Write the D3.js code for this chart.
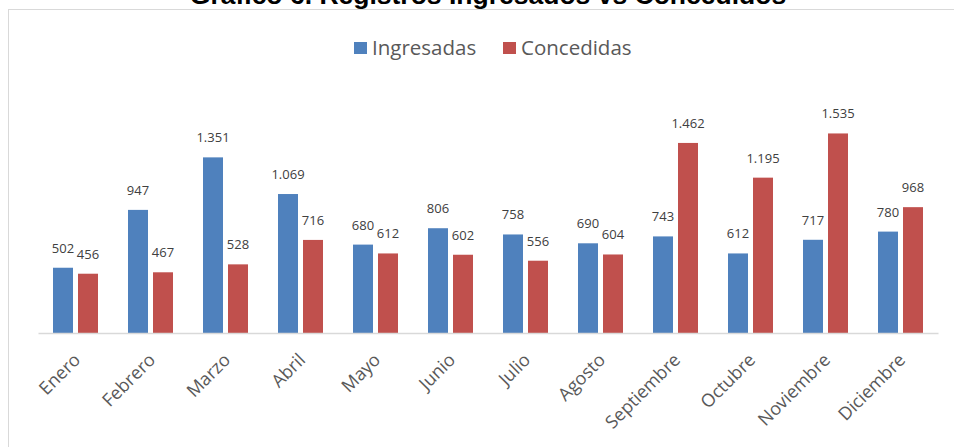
<!DOCTYPE html>
<html>
<head>
<meta charset="utf-8">
<script src="https://cdn.jsdelivr.net/npm/d3@7"></script>
<style>
  body { margin: 0; background: #fff; }
  svg { display: block; }
  .title { font-family: "Liberation Sans", Arial, sans-serif; font-weight: bold; font-size: 26.5px; fill: #000; }
  .legend text { font-family: "Open Sans", sans-serif; font-size: 20.5px; fill: #595959; }
  .val { font-family: "Open Sans", sans-serif; font-size: 13px; fill: #404040; }
  .mes { font-family: "Open Sans", sans-serif; font-size: 18px; fill: #595959; }
</style>
</head>
<body>
<svg width="954" height="447"></svg>
<script>
var meses = ["Enero", "Febrero", "Marzo", "Abril", "Mayo", "Junio", "Julio", "Agosto", "Septiembre", "Octubre", "Noviembre", "Diciembre"];
var series = ["Ingresadas", "Concedidas"];
var ingresadas = [502, 947, 1351, 1069, 680, 806, 758, 690, 743, 612, 717, 780];
var concedidas = [456, 467, 528, 716, 612, 602, 556, 604, 1462, 1195, 1535, 968];
var colores = ["#4f81bd", "#c0504d"];

var svg = d3.select("svg");

// marco del grafico
svg.append("rect")
  .attr("x", 8.5).attr("y", 9.5)
  .attr("width", 1000).attr("height", 1000)
  .attr("fill", "none")
  .attr("stroke", "#d9d9d9")
  .attr("stroke-width", 1);

svg.append("text")
  .attr("class", "title")
  .attr("x", 488).attr("y", 4)
  .attr("text-anchor", "middle")
  .text("Gráfico 6. Registros Ingresados vs Concedidos");

var x0 = d3.scaleBand().domain(meses).range([38, 938]).paddingInner(0.4).paddingOuter(0.2);
var x1 = d3.scaleBand().domain(series).range([0, x0.bandwidth()]).paddingInner(0.2);
var y = d3.scaleLinear().domain([0, 1800]).range([333, 99]);

var rows = meses.map(function(m, i) {
  return {mes: m, vals: [{s: series[0], v: ingresadas[i]}, {s: series[1], v: concedidas[i]}]};
});

var g = svg.selectAll(".grupo")
  .data(rows)
  .enter().append("g")
  .attr("class", "grupo")
  .attr("transform", function(d) { return "translate(" + x0(d.mes) + ",0)"; });

g.selectAll("rect")
  .data(function(d) { return d.vals; })
  .enter().append("rect")
  .attr("x", function(d) { return x1(d.s); })
  .attr("y", function(d) { return y(d.v); })
  .attr("width", x1.bandwidth())
  .attr("height", function(d) { return y(0) - y(d.v); })
  .attr("fill", function(d, i) { return colores[i]; });

g.selectAll(".val")
  .data(function(d) { return d.vals; })
  .enter().append("text")
  .attr("class", "val")
  .attr("x", function(d) { return x1(d.s) + x1.bandwidth() / 2; })
  .attr("y", function(d) { return y(d.v) - 15; })
  .attr("text-anchor", "middle")
  .text(function(d) { return d3.format(",")(d.v).replace(",", "."); });

// eje x
var xAxis = svg.append("g")
  .attr("transform", "translate(0," + y(0) + ")")
  .call(d3.axisBottom(x0).tickSize(0).tickFormat(""));
xAxis.select(".domain").attr("stroke", "#d9d9d9").attr("stroke-width", 1.5);

svg.selectAll(".mes")
  .data(meses)
  .enter().append("text")
  .attr("class", "mes")
  .attr("text-anchor", "end")
  .attr("transform", function(d) {
    return "translate(" + (x0(d) + x0.bandwidth() / 2 + 6) + ",361) rotate(-45)";
  })
  .text(function(d) { return d; });

// leyenda
var leg = svg.append("g").attr("class", "legend");
var legX = [354, 503];
series.forEach(function(s, i) {
  leg.append("rect")
    .attr("x", legX[i]).attr("y", 42)
    .attr("width", 13).attr("height", 12)
    .attr("fill", colores[i]);
  leg.append("text")
    .attr("x", legX[i] + 18).attr("y", 55)
    .text(s);
});
</script>
</body>
</html>
